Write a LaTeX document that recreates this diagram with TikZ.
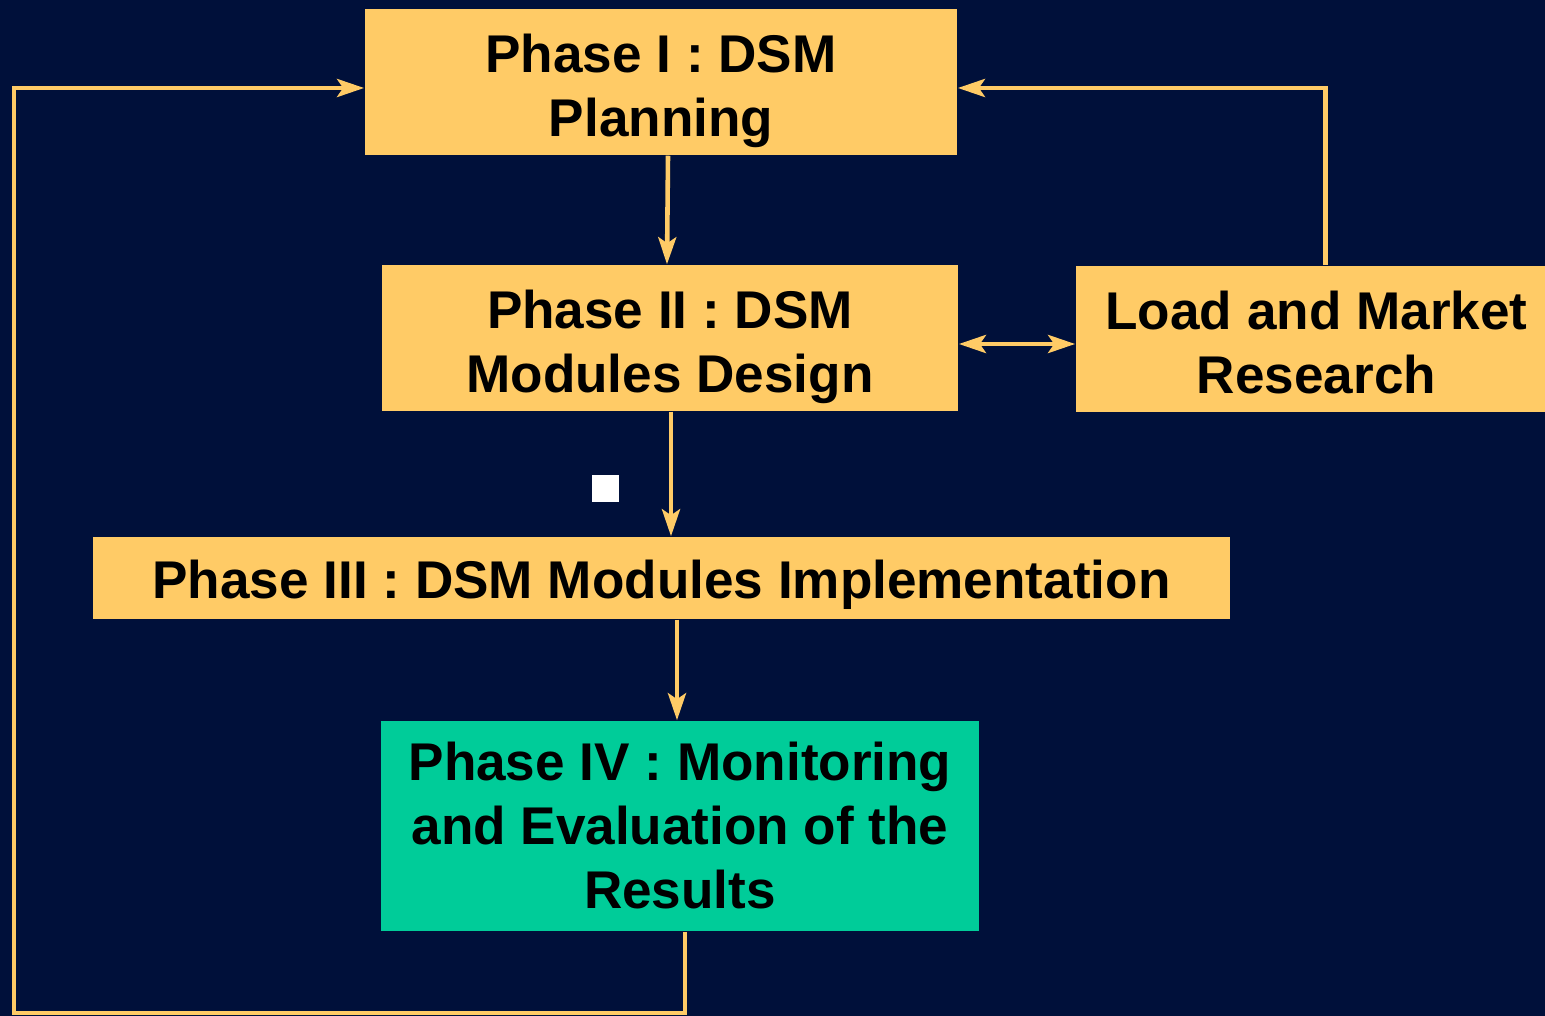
\documentclass[tikz,border=0pt]{standalone}
\usepackage{fontspec}
\setmainfont{Liberation Sans}
\usetikzlibrary{arrows.meta}
\definecolor{bgblue}{HTML}{00103A}
\definecolor{phaseorange}{HTML}{FFCB66}
\definecolor{phaseteal}{HTML}{00CC99}
\newcommand{\topstrut}[1][0.57cm]{\rule{0pt}{#1}}
\tikzset{
  phasebox/.style={fill=phaseorange, inner sep=0pt, align=center,
    font=\fontsize{15.1}{18.2}\selectfont\bfseries},
  arr/.style={draw=phaseorange, line width=1.3pt,
    -{Stealth[length=0.27cm, width=0.18cm, inset=0.06cm]}},
  darr/.style={draw=phaseorange, line width=1.3pt,
    {Stealth[length=0.27cm, width=0.18cm, inset=0.06cm]}-{Stealth[length=0.27cm, width=0.18cm, inset=0.06cm]}}
}
\begin{document}
\begin{tikzpicture}[x=0.01cm, y=-0.01cm]
    \fill [bgblue] (0,0) rectangle (1545,1016);
    \useasboundingbox (0,0) rectangle (1545,1016);
    % phases
    \node [phasebox, minimum width=5.92cm, minimum height=1.46cm] (p1) at (661,82) {\topstrut Phase I : DSM\\Planning};
    \node [phasebox, minimum width=5.76cm, minimum height=1.46cm] (p2) at (670,338) {\topstrut Phase II : DSM\\Modules Design};
    \node [phasebox, minimum width=4.69cm, minimum height=1.46cm] (lm) at (1310.5,339) {\topstrut[0.45cm]\hspace{0.12cm}Load and Market\\\hspace{0.12cm}Research};
    \node [phasebox, minimum width=11.37cm, minimum height=0.82cm] (p3) at (661.5,578) {\topstrut[0.51cm]Phase III : DSM Modules Implementation};
    \node [phasebox, fill=phaseteal, minimum width=5.98cm, minimum height=2.10cm] (p4) at (680,826) {Phase IV : Monitoring\\and Evaluation of the\\Results};
    \node [fill=white, inner sep=0pt, minimum size=0.27cm] (dot) at (605.5,488.5) {};
    % arrows
    \draw [arr] ([xshift=0.07cm]p1.south) -- ([xshift=-0.03cm]p2.north);
    \draw [arr] ([xshift=0.01cm]p2.south) -- ([xshift=0.01cm]p2.south |- p3.north);
    \draw [arr] ([xshift=-0.03cm]p4.north |- p3.south) -- ([xshift=-0.03cm]p4.north);
    \draw [darr] ([yshift=-0.06cm]p2.east) -- ([yshift=-0.06cm]p2.east -| lm.west);
    \draw [arr] ([xshift=0.15cm]lm.north) |- ([yshift=-0.06cm]p1.east);
    \coordinate (loop) at (14,1013);
    \draw [arr] ([xshift=0.05cm]p4.south) |- (loop) |- ([yshift=-0.06cm]p1.west);
\end{tikzpicture}
\end{document}
